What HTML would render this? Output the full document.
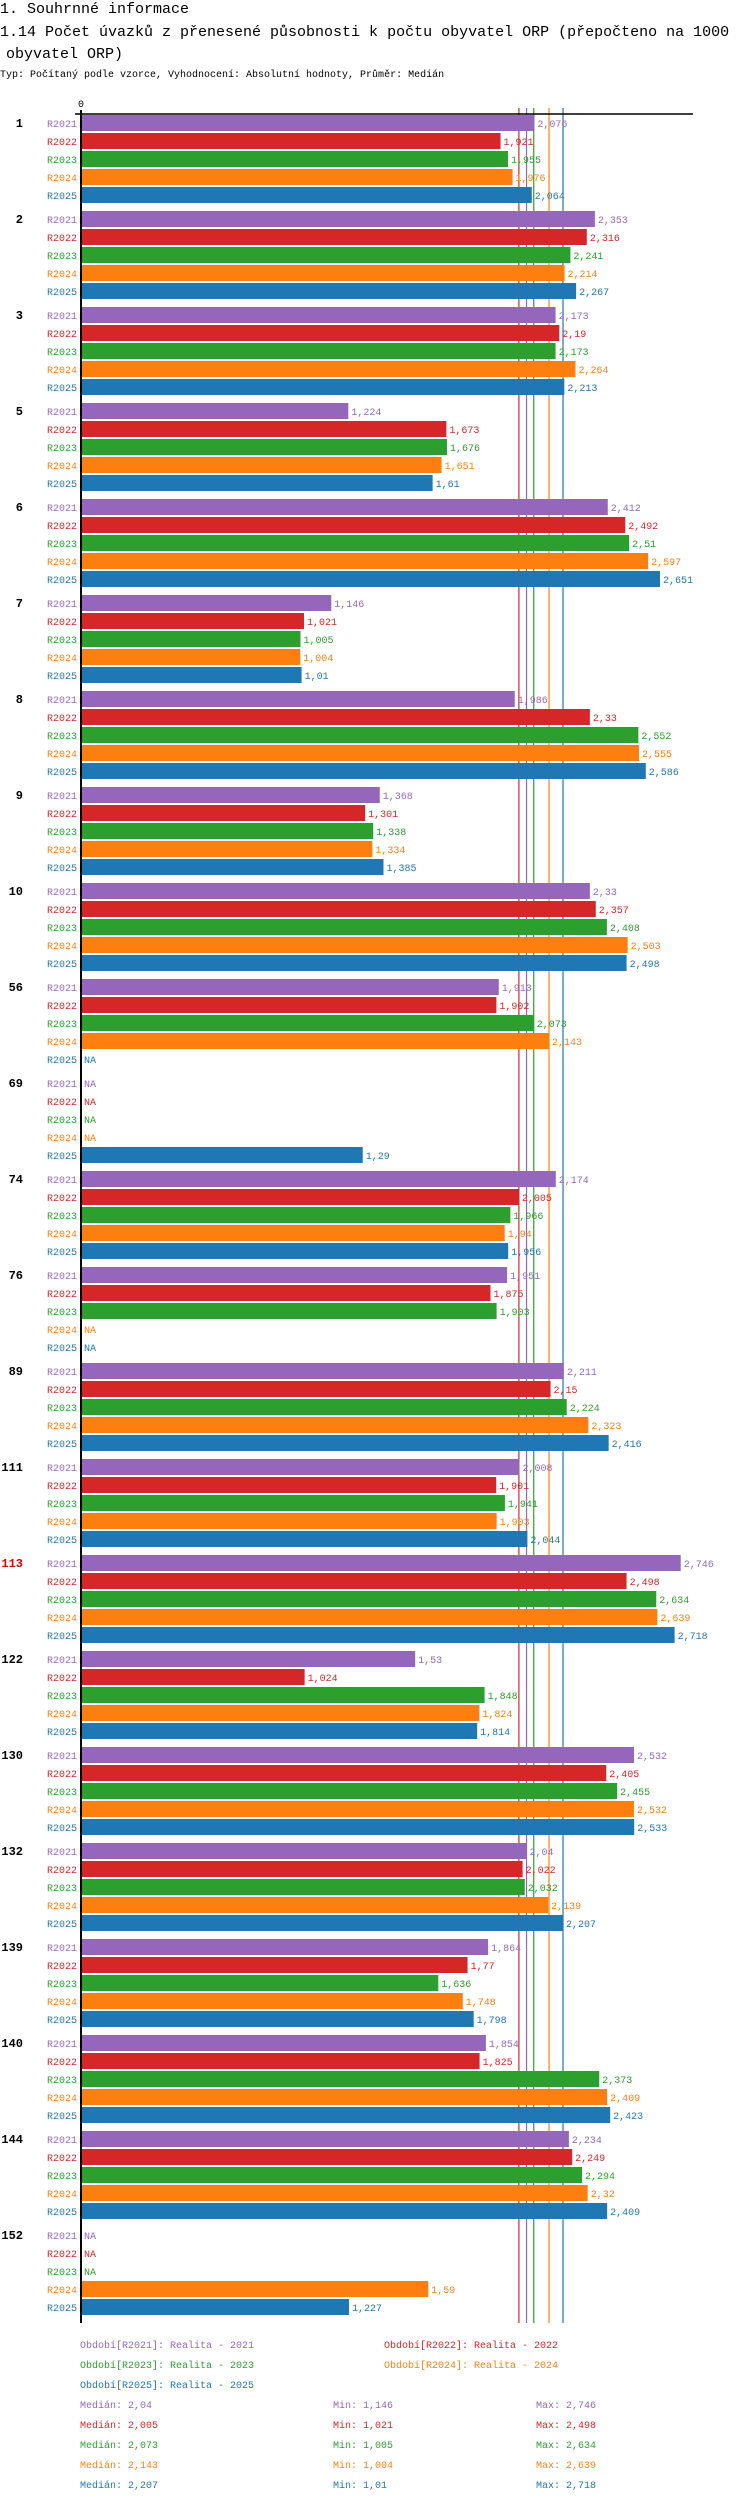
<!DOCTYPE html>
<html><head><meta charset="utf-8"><style>
body{margin:0;background:#fff;width:750px;height:2502px;overflow:hidden}
svg{display:block}
text{font-family:"Liberation Mono",monospace}
</style></head><body>
<svg id="chart" width="750" height="2502" xmlns="http://www.w3.org/2000/svg">
<text x="0" y="13" font-size="15">1. Souhrnné informace</text>
<text x="0" y="36" font-size="15">1.14 Počet úvazků z přenesené působnosti k počtu obyvatel ORP (přepočteno na 1000</text>
<text x="6" y="58" font-size="15">obyvatel ORP)</text>
<text x="0" y="77" font-size="10">Typ: Počítaný podle vzorce, Vyhodnocení: Absolutní hodnoty, Průměr: Medián</text>
<g id="lines"></g><g id="bars"></g>
<line x1="75" y1="114" x2="693" y2="114" stroke="#000" stroke-width="1.5"/>
<line x1="81" y1="110" x2="81" y2="2323" stroke="#000" stroke-width="2"/>
<text x="81" y="107" font-size="10" text-anchor="middle">0</text>
<g id="legend"></g>
</svg>
<script>
const groups=["1","2","3","5","6","7","8","9","10","56","69","74","76","89","111","113","122","130","132","139","140","144","152"];
const seriesNames=["R2021","R2022","R2023","R2024","R2025"];
const s2021=[2.076,2.353,2.173,1.224,2.412,1.146,1.986,1.368,2.33,1.913,null,2.174,1.951,2.211,2.008,2.746,1.53,2.532,2.04,1.864,1.854,2.234,null];
const s2022=[1.921,2.316,2.19,1.673,2.492,1.021,2.33,1.301,2.357,1.902,null,2.005,1.875,2.15,1.901,2.498,1.024,2.405,2.022,1.77,1.825,2.249,null];
const s2023=[1.955,2.241,2.173,1.676,2.51,1.005,2.552,1.338,2.408,2.073,null,1.966,1.903,2.224,1.941,2.634,1.848,2.455,2.032,1.636,2.373,2.294,null];
const s2024=[1.976,2.214,2.264,1.651,2.597,1.004,2.555,1.334,2.503,2.143,null,1.94,null,2.323,1.903,2.639,1.824,2.532,2.139,1.748,2.409,2.32,1.59];
const s2025=[2.064,2.267,2.213,1.61,2.651,1.01,2.586,1.385,2.498,null,1.29,1.956,null,2.416,2.044,2.718,1.814,2.533,2.207,1.798,2.423,2.409,1.227];
const medians=[2.04,2.005,2.073,2.143,2.207];
const mins=[1.146,1.021,1.005,1.004,1.01];
const maxs=[2.746,2.498,2.634,2.639,2.718];
const legendNames=["Období[R2021]: Realita - 2021","Období[R2022]: Realita - 2022","Období[R2023]: Realita - 2023","Období[R2024]: Realita - 2024","Období[R2025]: Realita - 2025"];
const colors=["#9467bd","#d62728","#2ca02c","#ff7f0e","#1f77b4"];
const series=[s2021,s2022,s2023,s2024,s2025];
const NS="http://www.w3.org/2000/svg";
const X0=81,K=218.4,TOP=115,GP=96,BP=18,BH=16;
const xs=v=>X0+v*K;
const ys=(g,s)=>TOP+g*GP+s*BP;
function mk(tag,attrs,parent,txt){const e=document.createElementNS(NS,tag);for(const k in attrs)e.setAttribute(k,attrs[k]);if(txt!=null)e.textContent=txt;parent.appendChild(e);return e;}
const L=document.getElementById('lines'),B=document.getElementById('bars'),G=document.getElementById('legend');
medians.forEach((m,i)=>{const l=mk('line',{x1:xs(m),x2:xs(m),y1:108,y2:2323,stroke:colors[i],'stroke-width':1.2},L);

});
groups.forEach((g,gi)=>{
 const gl=mk('text',{x:23,y:ys(gi,0)+12,'font-size':12,'font-weight':'bold','text-anchor':'end',fill:g==="113"?"#e00000":"#000"},B,g);
 
 
 series.forEach((s,si)=>{
  const y=ys(gi,si),v=s[gi];
  const sl=mk('text',{x:77,y:y+12,'font-size':10,'text-anchor':'end',fill:colors[si]},B,seriesNames[si]);
  
  
  if(v==null){const na=mk('text',{x:84,y:y+12,'font-size':10,fill:colors[si]},B,'NA');
   
   return;}
  const r=mk('rect',{x:X0,y:y,width:xs(v)-X0,height:BH,fill:colors[si]},B);
  
  
  const t=mk('text',{x:xs(v)+3,y:y+12,'font-size':10,fill:colors[si]},B,String(v).replace('.',','));
  
  
 });
});
const legPos=[[80,2348],[384,2348],[80,2368],[384,2368],[80,2388]];
legendNames.forEach((n,i)=>{const t=mk('text',{x:legPos[i][0],y:legPos[i][1],'font-size':10,fill:colors[i]},G,n);
 
 });
medians.forEach((m,i)=>{const y=2408+i*20;const f=v=>String(v).replace('.',',');
 const a=mk('text',{x:80,y:y,'font-size':10,fill:colors[i]},G,'Medián: '+f(m));
 
 
 const b=mk('text',{x:333,y:y,'font-size':10,fill:colors[i]},G,'Min: '+f(mins[i]));
 
 
 const c=mk('text',{x:536,y:y,'font-size':10,fill:colors[i]},G,'Max: '+f(maxs[i]));
 
 });
</script>
</body></html>
